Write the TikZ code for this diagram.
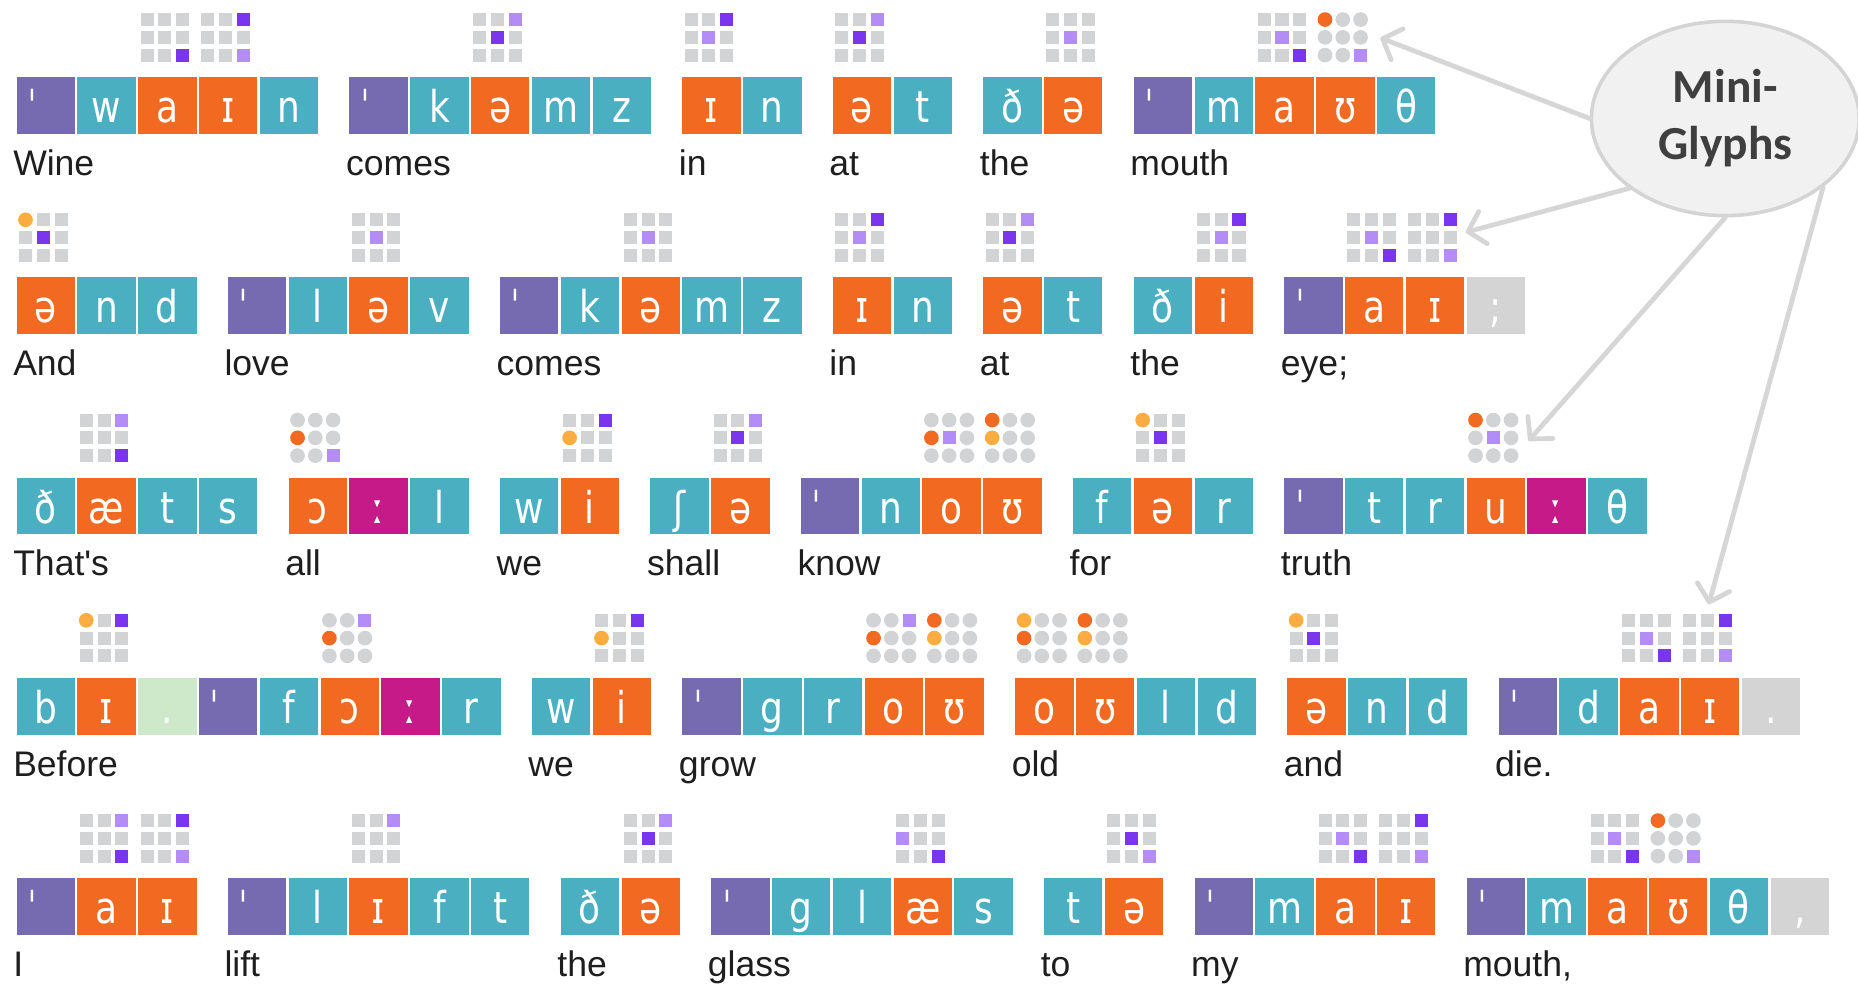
\documentclass[tikz,border=0pt]{standalone}
\usepackage{fontspec}
\usetikzlibrary{shapes.geometric,arrows.meta}
\newfontfamily\ipafont[FakeStretch=0.82]{DejaVu Sans}
\newfontfamily\lblfont{Liberation Sans}
\newfontfamily\titfont{Carlito}
\definecolor{cP}{HTML}{766AB0}
\definecolor{cT}{HTML}{4AAFC1}
\definecolor{cO}{HTML}{F26A22}
\definecolor{cM}{HTML}{C51A88}
\definecolor{cS}{HTML}{CDE9C9}
\definecolor{cX}{HTML}{D4D4D4}
\definecolor{cG}{HTML}{D2D3D5}
\definecolor{cD}{HTML}{7A36EE}
\definecolor{cL}{HTML}{B38CF5}
\definecolor{cR}{HTML}{F26A22}
\definecolor{cY}{HTML}{FBAD42}
\definecolor{acol}{HTML}{D6D6D6}
\definecolor{efill}{HTML}{F1F1F1}
\definecolor{edraw}{HTML}{D4D4D4}
\definecolor{etext}{HTML}{3F3F3F}
\definecolor{ltext}{HTML}{1E1E1E}
\newcommand\strs{\makebox[0pt][r]{ˈ\hspace{7pt}}}
\newcommand\cma{,}
\newcommand\smc{;}
\newcommand\gcellS[3]{\fill[#3] ({#1},{#2}) rectangle ++(11,11);}
\newcommand\gcellC[3]{\fill[#3] ({#1+5.5},{#2+5.5}) circle[radius=6.2pt];}
\newcommand\mkD[2]{\gcellS{#1}{#2}{cD}}
\newcommand\mkL[2]{\gcellS{#1}{#2}{cL}}
\newcommand\mkR[2]{\gcellC{#1}{#2}{cR}}
\newcommand\mkY[2]{\gcellC{#1}{#2}{cY}}
\newcommand\mglyph[4]{%
  \foreach \rI in {1,2,3}{\foreach \cI in {1,2,3}{%
    \csname gcell#3\endcsname{#1+2+\cI*15-15}{#2-54+\rI*15-15}{cG}%
  }}%
  \foreach \rI/\cI/\kI in {#4}{%
    \fill[white] ({#1+1+\cI*15-15},{#2-55+\rI*15-15}) rectangle ++(13,13);
    \csname mk\kI\endcsname{#1+2+\cI*15-15}{#2-54+\rI*15-15}%
  }%
}
\newcommand\wrd[5]{%
  \foreach \kI/\ch [count=\i from 0] in {#4}{%
    \node[cell, fill=c\kI] (#1-\i) at ({#2+\i*51.3+24.65},{#3+24}) {\ch};
  }%
  \node[lbl] (#1-l) at ({#2-3},{#3+83}) {#5};
}
\begin{document}
\begin{tikzpicture}[x=1pt,y=-1pt,
  cell/.style={minimum width=49.3pt, minimum height=48pt, inner sep=0pt,
    text height=29pt, text depth=0pt, text=white,
    font={\ipafont\fontsize{37}{42}\selectfont}},
  lbl/.style={anchor=base west, inner sep=0pt, text=ltext,
    font={\lblfont\fontsize{30}{36}\selectfont}},
  arr/.style={draw=acol, line width=4pt, line cap=round,
    -{Straight Barb[length=13pt,width=28pt,round]}}]
\fill[white] (0,0) rectangle (1568,830);
\useasboundingbox (0,0) rectangle (1568,830);

% Row 1
\wrd{a1}{14}{65}{P/\strs,T/w,O/a,O/ɪ,T/n}{Wine}
\mglyph{14+2*51.3}{65}{S}{3/3/D}
\mglyph{14+3*51.3}{65}{S}{1/3/D,3/3/L}
\wrd{a2}{294.9}{65}{P/\strs,T/k,O/ə,T/m,T/z}{comes}
\mglyph{294.9+2*51.3}{65}{S}{1/3/L,2/2/D}
\wrd{a3}{575.8}{65}{O/ɪ,T/n}{in}
\mglyph{575.8}{65}{S}{1/3/D,2/2/L}
\wrd{a4}{702.8}{65}{O/ə,T/t}{at}
\mglyph{702.8}{65}{S}{1/3/L,2/2/D}
\wrd{a5}{829.8}{65}{T/ð,O/ə}{the}
\mglyph{829.8+51.3}{65}{S}{2/2/L}
\wrd{a6}{956.8}{65}{P/\strs,T/m,O/a,O/ʊ,T/θ}{mouth}
\mglyph{956.8+2*51.3}{65}{S}{2/2/L,3/3/D}
\mglyph{956.8+3*51.3}{65}{C}{1/1/R,3/3/L}

% Row 2
\wrd{b1}{14}{234}{O/ə,T/n,T/d}{And}
\mglyph{14}{234}{S}{1/1/Y,2/2/D}
\wrd{b2}{192.3}{234}{P/\strs,T/l,O/ə,T/v}{love}
\mglyph{192.3+2*51.3}{234}{S}{2/2/L}
\wrd{b3}{421.9}{234}{P/\strs,T/k,O/ə,T/m,T/z}{comes}
\mglyph{421.9+2*51.3}{234}{S}{2/2/L}
\wrd{b4}{702.8}{234}{O/ɪ,T/n}{in}
\mglyph{702.8}{234}{S}{1/3/D,2/2/L}
\wrd{b5}{829.8}{234}{O/ə,T/t}{at}
\mglyph{829.8}{234}{S}{1/3/L,2/2/D}
\wrd{b6}{956.8}{234}{T/ð,O/i}{the}
\mglyph{956.8+51.3}{234}{S}{1/3/D,2/2/L}
\wrd{b7}{1083.8}{234}{P/\strs,O/a,O/ɪ,X/\smc}{eye;}
\mglyph{1083.8+51.3}{234}{S}{2/2/L,3/3/D}
\mglyph{1083.8+2*51.3}{234}{S}{1/3/D,3/3/L}

% Row 3
\wrd{c1}{14}{403}{T/ð,O/æ,T/t,T/s}{That\char39 s}
\mglyph{14+51.3}{403}{S}{1/3/L,3/3/D}
\wrd{c2}{243.6}{403}{O/ɔ,M/ː,T/l}{all}
\mglyph{243.6}{403}{C}{2/1/R,3/3/L}
\wrd{c3}{421.9}{403}{T/w,O/i}{we}
\mglyph{421.9+51.3}{403}{S}{1/3/D,2/1/Y}
\wrd{c4}{548.9}{403}{T/ʃ,O/ə}{shall}
\mglyph{548.9+51.3}{403}{S}{1/3/L,2/2/D}
\wrd{c5}{675.9}{403}{P/\strs,T/n,O/o,O/ʊ}{know}
\mglyph{675.9+2*51.3}{403}{C}{2/1/R,2/2/L}
\mglyph{675.9+3*51.3}{403}{C}{1/1/R,2/1/Y}
\wrd{c6}{905.5}{403}{T/f,O/ə,T/r}{for}
\mglyph{905.5+51.3}{403}{S}{1/1/Y,2/2/D}
\wrd{c7}{1083.8}{403}{P/\strs,T/t,T/r,O/u,M/ː,T/θ}{truth}
\mglyph{1083.8+3*51.3}{403}{C}{1/1/R,2/2/L}

% Row 4
\wrd{d1}{14}{572}{T/b,O/ɪ,S/.,P/\strs,T/f,O/ɔ,M/ː,T/r}{Before}
\mglyph{14+51.3}{572}{S}{1/1/Y,1/3/D}
\mglyph{14+5*51.3}{572}{C}{1/3/L,2/1/R}
\wrd{d2}{448.8}{572}{T/w,O/i}{we}
\mglyph{448.8+51.3}{572}{S}{1/3/D,2/1/Y}
\wrd{d3}{575.8}{572}{P/\strs,T/g,T/r,O/o,O/ʊ}{grow}
\mglyph{575.8+3*51.3}{572}{C}{1/3/L,2/1/R}
\mglyph{575.8+4*51.3}{572}{C}{1/1/R,2/1/Y}
\wrd{d4}{856.7}{572}{O/o,O/ʊ,T/l,T/d}{old}
\mglyph{856.7}{572}{C}{1/1/Y,2/1/R}
\mglyph{856.7+51.3}{572}{C}{1/1/R,2/1/Y}
\wrd{d5}{1086.3}{572}{O/ə,T/n,T/d}{and}
\mglyph{1086.3}{572}{S}{1/1/Y,2/2/D}
\wrd{d6}{1264.6}{572}{P/\strs,T/d,O/a,O/ɪ,X/.}{die.}
\mglyph{1264.6+2*51.3}{572}{S}{2/2/L,3/3/D}
\mglyph{1264.6+3*51.3}{572}{S}{1/3/D,3/3/L}

% Row 5
\wrd{e1}{14}{741}{P/\strs,O/a,O/ɪ}{I}
\mglyph{14+51.3}{741}{S}{1/3/L,3/3/D}
\mglyph{14+2*51.3}{741}{S}{1/3/D,3/3/L}
\wrd{e2}{192.3}{741}{P/\strs,T/l,O/ɪ,T/f,T/t}{lift}
\mglyph{192.3+2*51.3}{741}{S}{1/3/L}
\wrd{e3}{473.2}{741}{T/ð,O/ə}{the}
\mglyph{473.2+51.3}{741}{S}{1/3/L,2/2/D}
\wrd{e4}{600.2}{741}{P/\strs,T/g,T/l,O/æ,T/s}{glass}
\mglyph{600.2+3*51.3}{741}{S}{2/1/L,3/3/D}
\wrd{e5}{881.1}{741}{T/t,O/ə}{to}
\mglyph{881.1+51.3}{741}{S}{2/2/D,3/3/L}
\wrd{e6}{1008.1}{741}{P/\strs,T/m,O/a,O/ɪ}{my}
\mglyph{1008.1+2*51.3}{741}{S}{2/2/L,3/3/D}
\mglyph{1008.1+3*51.3}{741}{S}{1/3/D,3/3/L}
\wrd{e7}{1237.7}{741}{P/\strs,T/m,O/a,O/ʊ,T/θ,X/\cma}{mouth,}
\mglyph{1237.7+2*51.3}{741}{S}{2/2/L,3/3/D}
\mglyph{1237.7+3*51.3}{741}{C}{1/1/R,3/3/L}

% Callout
\node[ellipse, minimum width=226pt, minimum height=164pt, inner sep=0pt,
  fill=efill, draw=edraw, line width=3pt, align=center, text=etext,
  font={\titfont\bfseries\fontsize{40}{48}\selectfont}] (mg) at (1456,100) {Mini-\\Glyphs};
\coordinate (t1) at (1165,32);
\coordinate (t2) at (1237,196);
\coordinate (t3) at (1290,372);
\coordinate (t4) at (1442,510);
\draw[arr] (mg.180) -- (t1);
\draw[arr] (mg.216) -- (t2);
\draw[arr] (mg.270) -- (t3);
\draw[arr] (mg.325) -- (t4);
\end{tikzpicture}
\end{document}
